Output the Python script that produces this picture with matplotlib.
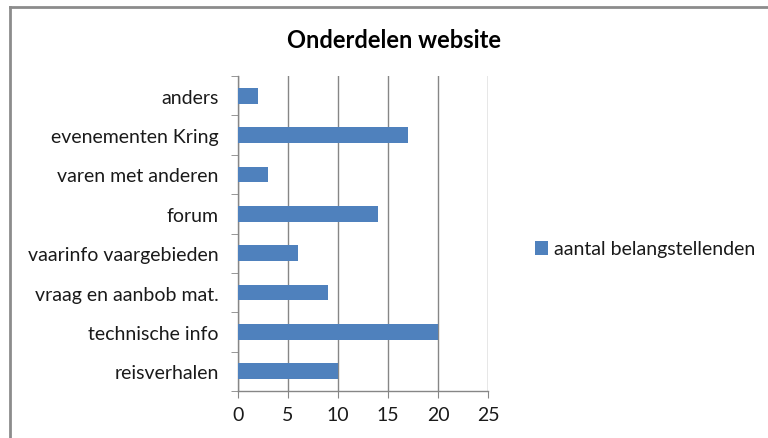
import matplotlib.pyplot as plt
from matplotlib.lines import Line2D

categories = ['reisverhalen', 'technische info', 'vraag en aanbob mat.',
              'vaarinfo vaargebieden', 'forum', 'varen met anderen',
              'evenementen Kring', 'anders']
values = [10, 20, 9, 6, 14, 3, 17, 2]
series_name = 'aantal belangstellenden'
xticks = [0, 5, 10, 15, 20, 25]

plt.rcParams['font.family'] = ['Lato', 'DejaVu Sans']

W, H = 768, 439
fig = plt.figure(figsize=(W / 100, H / 100), dpi=100)
ax = fig.add_axes([238 / W, 1 - 392 / H, 250 / W, 315 / H])

bar_color = '#4F81BD'
grid_color = '#868686'
text_color = '#1a1a1a'

ypos = list(range(len(categories)))
ax.barh(ypos, values, height=0.4, color=bar_color, label=series_name, zorder=3)

ax.set_xlim(0, 25)
ax.set_ylim(-0.5, len(categories) - 0.5)
ax.set_xticks(xticks)
ax.set_xticklabels([str(t) for t in xticks], fontsize=14, color=text_color)
ax.set_yticks(ypos)
ax.set_yticklabels(categories, fontsize=14, color=text_color)
ax.set_yticks([y - 0.5 for y in range(len(categories) + 1)], minor=True)

ax.tick_params(axis='y', which='major', length=0, pad=14)
ax.tick_params(axis='y', which='minor', length=5, color=grid_color, direction='out')
ax.tick_params(axis='x', which='major', length=5, color=grid_color, direction='out', pad=6)

ax.grid(axis='x', color=grid_color, linewidth=1, zorder=0)
for s in ['top', 'right']:
    ax.spines[s].set_visible(False)
for s in ['left', 'bottom']:
    ax.spines[s].set_color(grid_color)
    ax.spines[s].set_linewidth(1)

fig.text(394 / W, 1 - 41 / H, 'Onderdelen website', ha='center', va='center',
         fontsize=17, fontweight='bold', color='black')

leg = fig.legend(loc='center left', bbox_to_anchor=(525 / W, 1 - 250 / H),
                 frameon=False, fontsize=14, handlelength=0.7, handleheight=0.7,
                 handletextpad=0.3, borderpad=0)
for t in leg.get_texts():
    t.set_color(text_color)

# outer chart frame (partly cut off at right and bottom)
fig.add_artist(Line2D([9.5 / W, 1], [1 - 7.5 / H, 1 - 7.5 / H], color='#8c8c8c', lw=2))
fig.add_artist(Line2D([9.5 / W, 9.5 / W], [0, 1 - 7.5 / H], color='#8c8c8c', lw=2))

fig.savefig('out.png', dpi=100)
